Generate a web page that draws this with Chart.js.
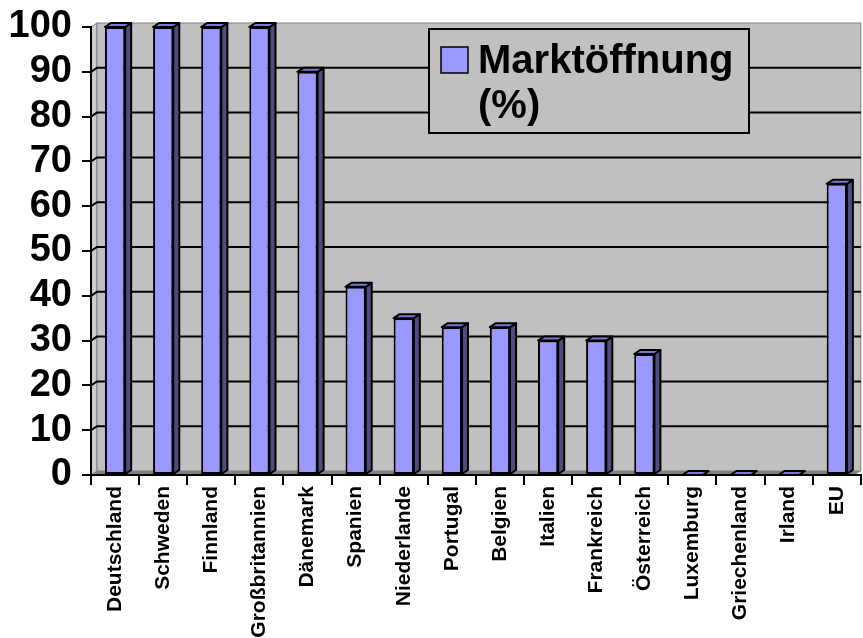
<!DOCTYPE html>
<html lang="de">
<head>
<meta charset="utf-8">
<script src="https://cdn.jsdelivr.net/npm/chart.js@4.4.1/dist/chart.umd.min.js"></script>
<style>
  body { margin: 0; background: #fff; }
  canvas { display: block; }
</style>
</head>
<body>
<canvas id="myChart" width="863" height="638"></canvas>
<script>
// data
const countries = ['Deutschland', 'Schweden', 'Finnland', 'Großbritannien', 'Dänemark', 'Spanien',
  'Niederlande', 'Portugal', 'Belgien', 'Italien', 'Frankreich', 'Österreich',
  'Luxemburg', 'Griechenland', 'Irland', 'EU'];
const opening = [100, 100, 100, 100, 90, 42, 35, 33, 33, 30, 30, 27, 0, 0, 0, 65];
const seriesName = 'Marktöffnung (%)';
const legendLines = ['Marktöffnung', '(%)'];
const yTicks = [0, 10, 20, 30, 40, 50, 60, 70, 80, 90, 100];

const FONT = '"Liberation Sans", Arial, sans-serif';
const DX = 6, DY = -4;   // depth of the fake 3d

// back wall, side wall, floor and grid lines
const wallPlugin = {
  id: 'wall',
  beforeDraw(chart) {
    const { ctx, chartArea: a } = chart;
    const ys = chart.scales.y;
    ctx.save();
    // side wall
    ctx.fillStyle = '#cccccc';
    ctx.strokeStyle = '#808080';
    ctx.lineWidth = 1;
    ctx.beginPath();
    ctx.moveTo(a.left, a.bottom);
    ctx.lineTo(a.left, a.top);
    ctx.lineTo(a.left + DX, a.top + DY);
    ctx.lineTo(a.left + DX, a.bottom + DY);
    ctx.closePath();
    ctx.fill(); ctx.stroke();
    // back wall
    ctx.fillStyle = '#c0c0c0';
    ctx.fillRect(a.left + DX, a.top + DY, a.right - a.left - DX, a.bottom - a.top);
    ctx.strokeRect(a.left + DX, a.top + DY, a.right - a.left - DX, a.bottom - a.top);
    // floor
    ctx.fillStyle = '#808080';
    ctx.beginPath();
    ctx.moveTo(a.left, a.bottom);
    ctx.lineTo(a.right - DX, a.bottom);
    ctx.lineTo(a.right, a.bottom + DY);
    ctx.lineTo(a.left + DX, a.bottom + DY);
    ctx.closePath();
    ctx.fill();
    // grid lines
    ctx.strokeStyle = '#000';
    ctx.lineWidth = 2;
    yTicks.forEach(v => {
      if (v === 0 || v === 100) return;
      const y = ys.getPixelForValue(v);
      ctx.beginPath();
      ctx.moveTo(a.left, y);
      ctx.lineTo(a.left + DX, y + DY);
      ctx.lineTo(a.right, y + DY);
      ctx.stroke();
    });
    ctx.restore();
  }
};

// side and top faces of the bars
const depthPlugin = {
  id: 'depth',
  afterDatasetsDraw(chart) {
    const { ctx } = chart;
    const meta = chart.getDatasetMeta(0);
    ctx.save();
    ctx.strokeStyle = '#000';
    ctx.lineWidth = 2;
    ctx.lineJoin = 'round';
    meta.data.forEach(bar => {
      const { x, y, base, width } = bar.getProps(['x', 'y', 'base', 'width'], true);
      const l = x - width / 2, r = x + width / 2;
      // side
      ctx.fillStyle = '#4d4d80';
      ctx.beginPath();
      ctx.moveTo(r, y);
      ctx.lineTo(r + DX, y + DY);
      ctx.lineTo(r + DX, base + DY);
      ctx.lineTo(r, base);
      ctx.closePath();
      ctx.fill(); ctx.stroke();
      // top
      ctx.fillStyle = '#7a7acc';
      ctx.beginPath();
      ctx.moveTo(l, y);
      ctx.lineTo(l + DX, y + DY);
      ctx.lineTo(r + DX, y + DY);
      ctx.lineTo(r, y);
      ctx.closePath();
      ctx.fill(); ctx.stroke();
    });
    ctx.restore();
  }
};

// legend box inside the plot
const legendPlugin = {
  id: 'boxLegend',
  afterDraw(chart) {
    const { ctx } = chart;
    const bx = 429, by = 29, bw = 320, bh = 104;
    ctx.save();
    ctx.fillStyle = '#c0c0c0';
    ctx.fillRect(bx, by, bw, bh);
    ctx.strokeStyle = '#000';
    ctx.lineWidth = 2;
    ctx.strokeRect(bx, by, bw, bh);
    ctx.fillStyle = chart.data.datasets[0].backgroundColor;
    ctx.fillRect(441, 47, 27, 26);
    ctx.lineWidth = 1.5;
    ctx.strokeRect(441, 47, 27, 26);
    ctx.fillStyle = '#000';
    ctx.font = 'bold 40px ' + FONT;
    ctx.textBaseline = 'alphabetic';
    ctx.fillText(legendLines[0], 478, 73);
    ctx.fillText(legendLines[1], 478, 118);
    ctx.restore();
  }
};

const ctx = document.getElementById('myChart').getContext('2d');
const myChart = new Chart(ctx, {
  type: 'bar',
  data: {
    labels: countries,
    datasets: [{
      label: seriesName,
      data: opening,
      backgroundColor: '#9999ff',
      borderColor: '#000',
      borderWidth: 2,
      borderSkipped: false,
      barPercentage: 0.42,
      categoryPercentage: 1
    }]
  },
  options: {
    responsive: false,
    animation: false,
    layout: { padding: { top: 27, right: 1, left: 0, bottom: 0 } },
    plugins: {
      legend: { display: false },
      tooltip: { enabled: false }
    },
    scales: {
      x: {
        offset: true,
        grid: { offset: true, drawOnChartArea: false, drawTicks: true, tickLength: 10, color: '#000', lineWidth: 2 },
        border: { display: true, color: '#000', width: 2 },
        ticks: {
          autoSkip: false, minRotation: 90, maxRotation: 90, padding: 1,
          color: '#000', font: { family: FONT, size: 21, weight: 'bold' }
        },
        afterFit(s) { s.height = 163; }
      },
      y: {
        min: 0, max: 100,
        afterBuildTicks(s) { s.ticks = yTicks.map(v => ({ value: v })); },
        grid: { drawOnChartArea: false, drawTicks: true, tickLength: 9, color: '#000', lineWidth: 2 },
        border: { display: true, color: '#000', width: 2 },
        ticks: {
          autoSkip: false, padding: 10, color: '#000',
          font: { family: FONT, size: 38, weight: 'bold' }
        },
        afterFit(s) { s.width = 91; s.paddingTop = 0; s.paddingBottom = 0; }
      }
    }
  },
  plugins: [wallPlugin, depthPlugin, legendPlugin]
});
</script>
</body>
</html>
